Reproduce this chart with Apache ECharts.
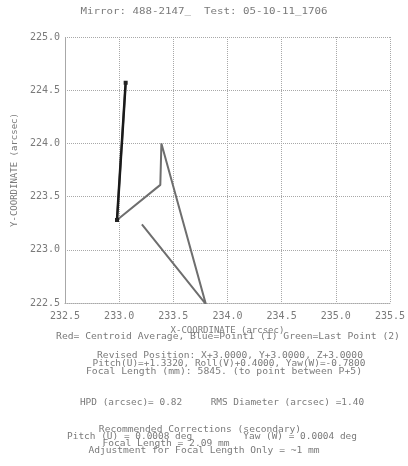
<!DOCTYPE html>
<html>
<head>
    <meta charset="utf-8">
    <title>Mirror 488-2147 centroid track</title>
    <script src="https://cdn.jsdelivr.net/npm/echarts@6.0.0/dist/echarts.min.js"></script>
    <style>
        html, body { margin: 0; padding: 0; background: #fff; }
        #chart-container { width: 408px; height: 466px; }
    </style>
</head>
<body>
<div id="chart-container"></div>

<script>
    var myChart = echarts.init(document.getElementById('chart-container'));

    // centroid positions (arcsec), in measurement order
    var xVals = [233.06, 232.98, 233.38, 233.39, 233.80, 233.21];
    var yVals = [224.57, 223.28, 223.61, 224.00, 222.49, 223.24];

    var xTicks = [232.5, 233.0, 233.5, 234.0, 234.5, 235.0, 235.5];
    var yTicks = [222.5, 223.0, 223.5, 224.0, 224.5, 225.0];

    var titleText = 'Mirror: 488-2147_  Test: 05-10-11_1706';
    var legendText = 'Red= Centroid Average, Blue=Point1 (1) Green=Last Point (2)';
    var infoLines = [
        ['Revised Position: X+3.0000, Y+3.0000, Z+3.0000', 230, 356, 1.2],
        ['Pitch(U)=+1.3320, Roll(V)+0.4000, Yaw(W)=-0.7800', 229, 364, 1.18],
        ['Focal Length (mm): 5845. (to point between P+5)', 224, 372, 1.22],
        ['HPD (arcsec)= 0.82     RMS Diameter (arcsec) =1.40', 222, 403, 1.18],
        ['Recommended Corrections (secondary)', 200, 430, 1.2],
        ['Pitch (U) = 0.0008 deg         Yaw (W) = 0.0004 deg', 212, 437, 1.18],
        ['Focal Length = 2.09 mm', 166, 444, 1.2],
        ['Adjustment for Focal Length Only = ~1 mm', 204, 451, 1.2]
    ];

    var pts = xVals.map(function (x, i) { return [x, yVals[i]]; });

    var mono = '"DejaVu Sans Mono", monospace';
    var textColor = '#7a7a7a';
    var gridColor = '#a8a8a8';

    // narrow text stretched sideways, like the plotter font
    function wideText(str, x, y, size, sx) {
        return {
            type: 'text', x: x, y: y, scaleX: sx,
            style: { text: str, fill: textColor, font: size + 'px ' + mono, align: 'center', verticalAlign: 'middle' }
        };
    }

    var graphics = [
        wideText(titleText, 204, 12, 9, 1.2),
        wideText(legendText, 228, 337, 8, 1.21)
    ];
    infoLines.forEach(function (l) {
        graphics.push(wideText(l[0], l[1], l[2], 8, l[3]));
    });

    var axisLbl = { color: textColor, fontFamily: mono, fontSize: 10 };

    var option = {
        animation: false,
        backgroundColor: '#fff',
        grid: { left: 65, right: 16, top: 37, bottom: 163 },
        xAxis: {
            type: 'value',
            min: xTicks[0], max: xTicks[xTicks.length - 1], interval: 0.5,
            name: 'X-COORDINATE (arcsec)',
            nameLocation: 'middle', nameGap: 18,
            nameTextStyle: { color: textColor, fontFamily: mono, fontSize: 9 },
            axisLine: { lineStyle: { color: gridColor, type: 'dotted' } },
            axisTick: { show: false },
            axisLabel: Object.assign({ margin: 8, formatter: function (v) { return v.toFixed(1); } }, axisLbl),
            splitLine: { show: true, lineStyle: { color: gridColor, type: 'dotted' } }
        },
        yAxis: {
            type: 'value',
            min: yTicks[0], max: yTicks[yTicks.length - 1], interval: 0.5,
            name: 'Y-COORDINATE (arcsec)',
            nameLocation: 'middle', nameGap: 41,
            nameTextStyle: { color: textColor, fontFamily: mono, fontSize: 9 },
            axisLine: { show: true, lineStyle: { color: gridColor, type: 'dotted' } },
            axisTick: { show: false },
            axisLabel: Object.assign({ margin: 5, formatter: function (v) { return v.toFixed(1); } }, axisLbl),
            splitLine: { show: true, lineStyle: { color: gridColor, type: 'dotted' } }
        },
        graphic: graphics,
        series: [{
            type: 'line',
            data: pts,
            symbol: 'none',
            lineStyle: { color: '#6e6e6e', width: 2 },
            z: 2
        }, {
            type: 'line',
            data: pts.slice(0, 2),
            symbol: 'rect', symbolSize: 4,
            showSymbol: true,
            itemStyle: { color: '#222' },
            lineStyle: { color: '#1a1a1a', width: 2.5 },
            z: 3
        }]
    };

    myChart.setOption(option);
</script>
</body>
</html>
